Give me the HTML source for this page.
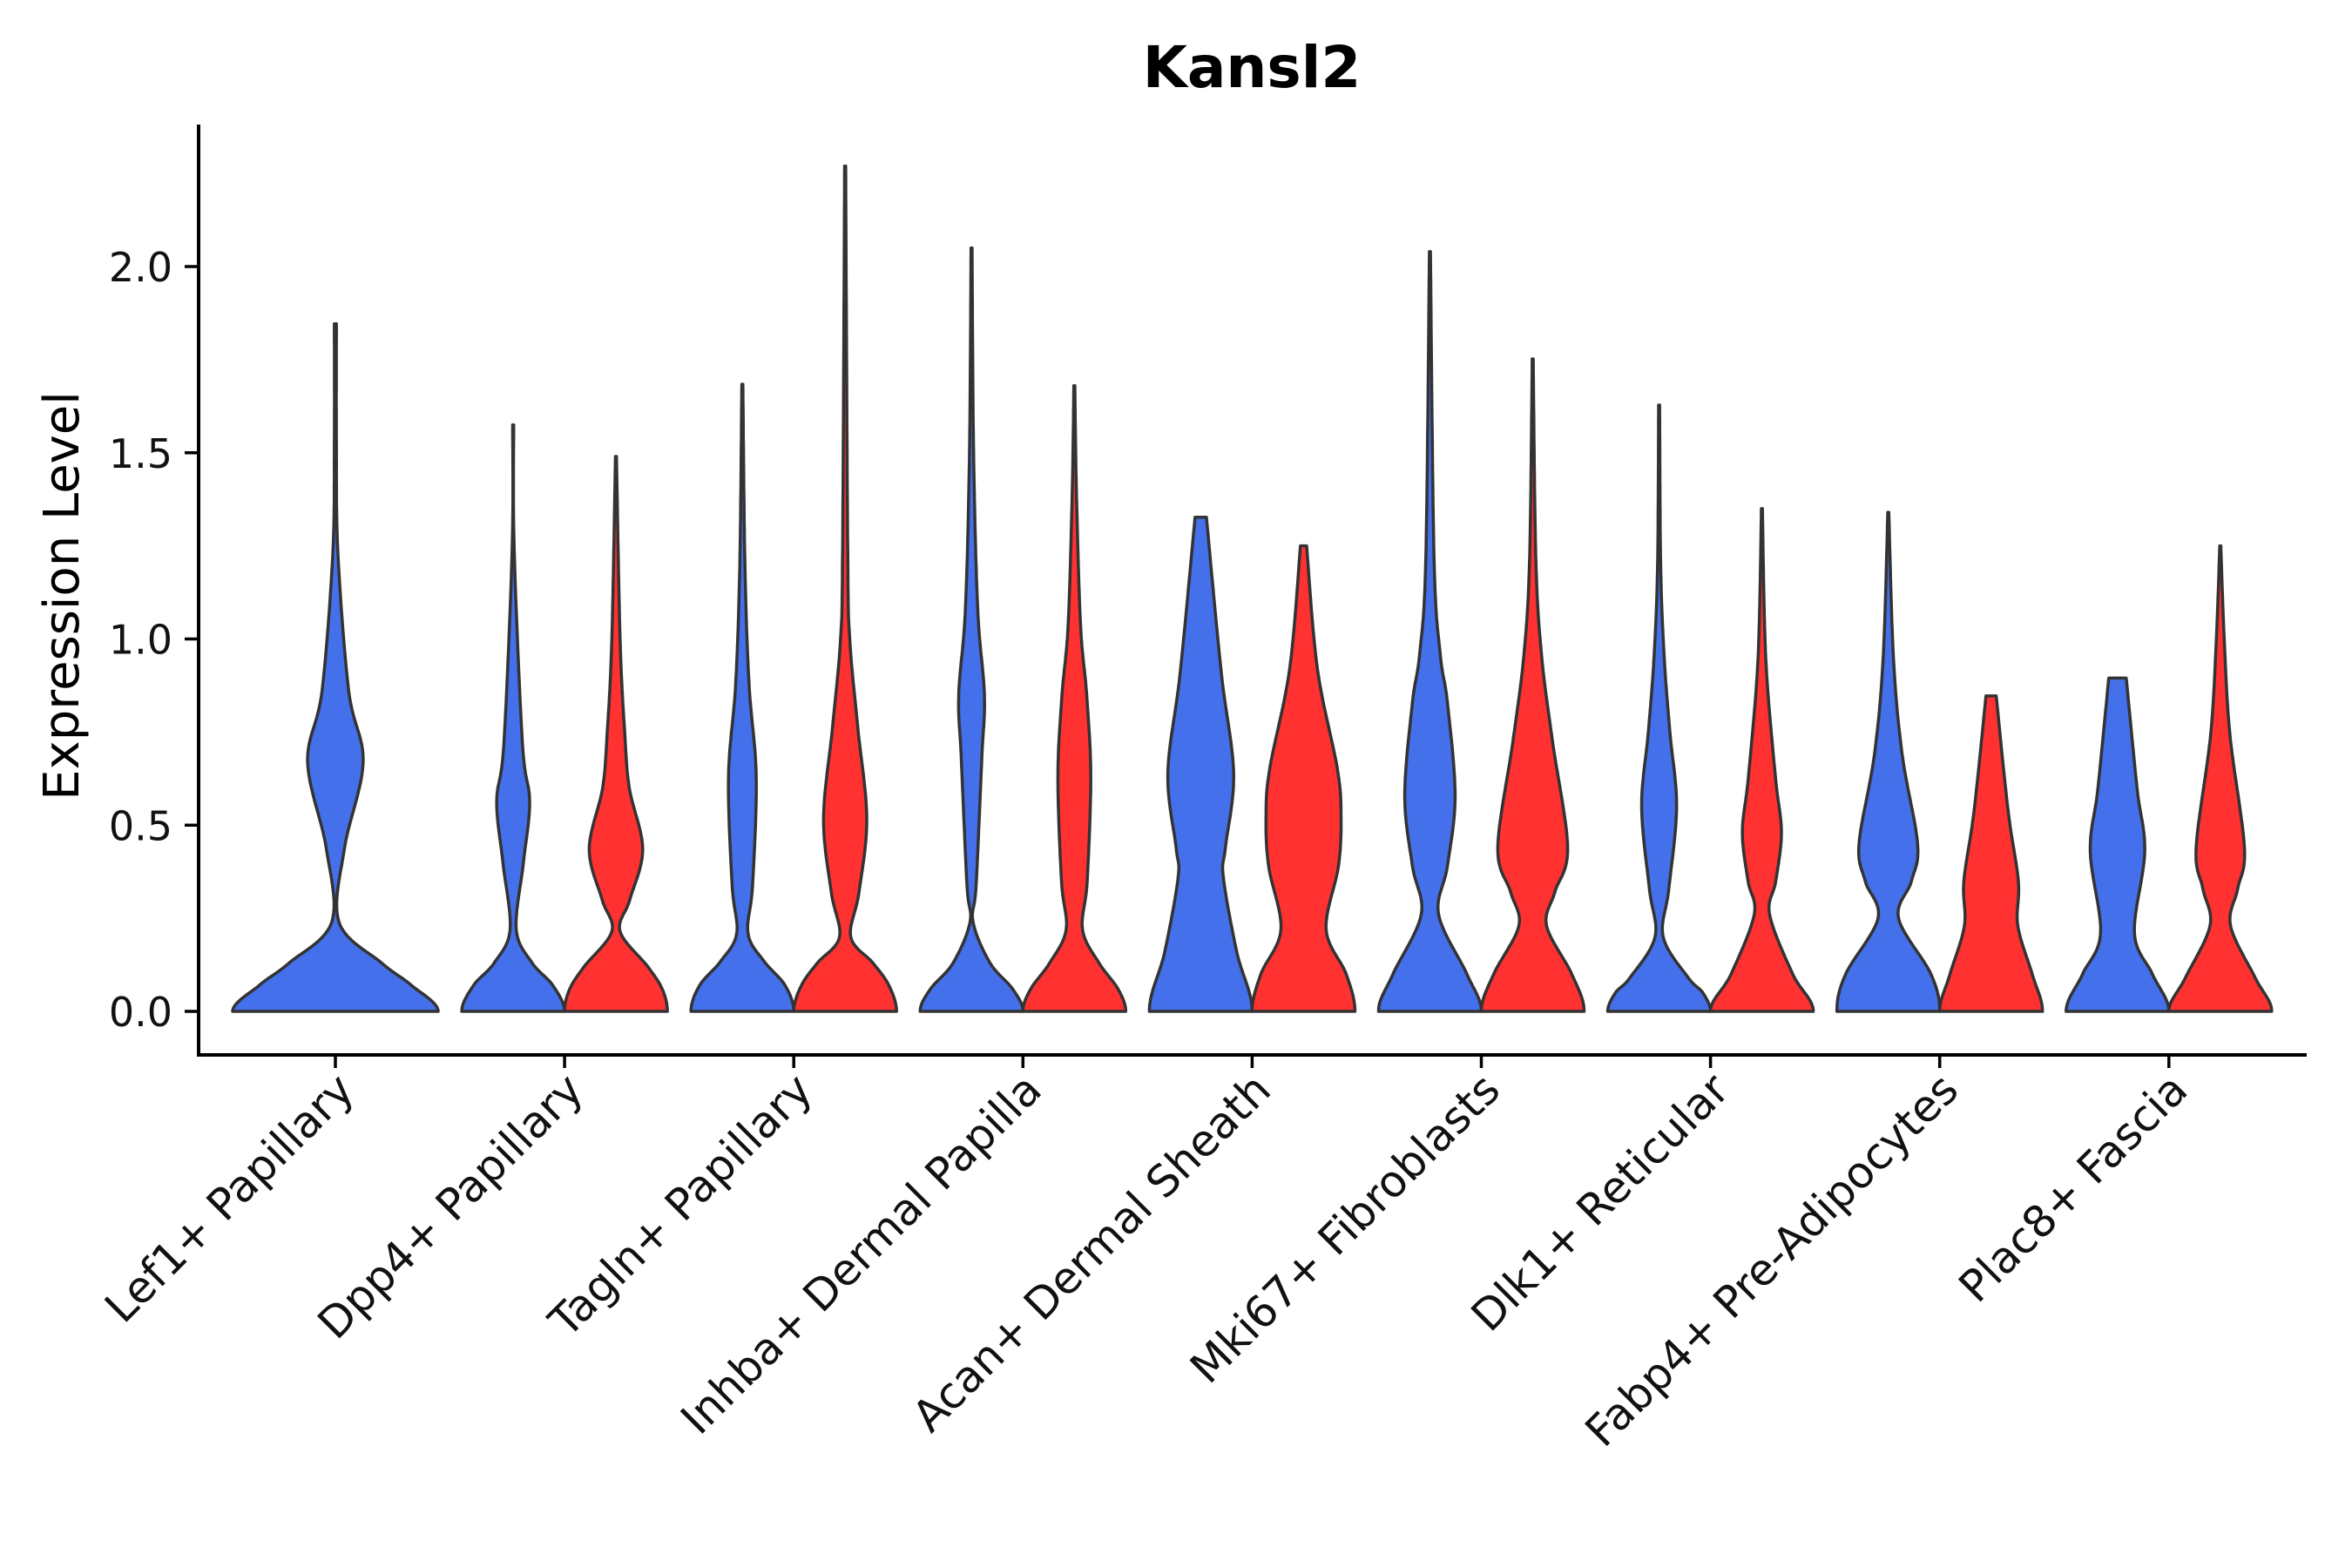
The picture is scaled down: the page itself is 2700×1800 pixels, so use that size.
<!DOCTYPE html>
<html><head><meta charset="utf-8"><style>
html,body{margin:0;padding:0;background:#fff;}
svg{display:block;font-family:"DejaVu Sans","Liberation Sans",sans-serif;}
</style></head><body>
<svg id="chart" width="2700" height="1800" viewBox="0 0 2700 1800">
<text x="1437" y="100" font-size="66" font-weight="bold" text-anchor="middle">Kansl2</text>
<text transform="translate(90,684) rotate(-90)" font-size="56" text-anchor="middle">Expression Level</text>
<g id="plot"></g>
</svg>
<script>
const categories = ["Lef1+ Papillary","Dpp4+ Papillary","Tagln+ Papillary","Inhba+ Dermal Papilla","Acan+ Dermal Sheath","Mki67+ Fibroblasts","Dlk1+ Reticular","Fabp4+ Pre-Adipocytes","Plac8+ Fascia"];
const yTicks = [0, 0.5, 1.0, 1.5, 2.0];
const yTickLabels = ["0.0","0.5","1.0","1.5","2.0"];
// violins: category index, group, max value, flat-top width, density knots (value, relative width)
const violinCat = [0,1,1,2,2,3,3,4,4,5,5,6,6,7,7,8,8];
const violinGroup = ["single","a","b","a","b","a","b","a","b","a","b","a","b","a","b","a","b"];
const violinMax = [1.846,1.575,1.49,1.684,2.27,2.05,1.68,1.327,1.25,2.04,1.752,1.628,1.35,1.34,0.847,0.895,1.25];
const violinTopW = [0.01,0.01,0.01,0.01,0.01,0.01,0.01,0.11,0.06,0.01,0.01,0.01,0.01,0.01,0.1,0.17,0.01];
const violinKnotY = [
 [0,0.07,0.13,0.24,0.44,0.67,0.86,1.23,1.53],
 [0,0.07,0.13,0.22,0.40,0.564,0.72,1.24],
 [0,0.06,0.12,0.215,0.30,0.436,0.6,0.75,1.0],
 [0,0.07,0.135,0.21,0.34,0.63,0.88,1.2],
 [0,0.07,0.13,0.2,0.32,0.52,0.77,1.0,1.24],
 [0,0.06,0.13,0.24,0.34,0.68,0.85,1.08,1.5],
 [0,0.06,0.13,0.22,0.35,0.63,0.85,1.04,1.4],
 [0,0.16,0.36,0.44,0.64,0.91],
 [0,0.1,0.22,0.39,0.52,0.65,0.92],
 [0,0.1,0.26,0.39,0.58,0.83,0.96,1.22],
 [0,0.1,0.23,0.32,0.44,0.73,0.96,1.22],
 [0,0.05,0.09,0.2,0.33,0.55,0.75,0.95,1.2],
 [0,0.1,0.26,0.35,0.48,0.62,0.87,1.05],
 [0,0.1,0.25,0.35,0.45,0.69,0.95],
 [0,0.1,0.23,0.35,0.54],
 [0,0.1,0.21,0.43,0.6],
 [0,0.09,0.23,0.33,0.44,0.74,0.99]
];
const violinKnotW = [
 [1,0.74,0.45,0.035,0.09,0.27,0.13,0.025,0.01],
 [1,0.77,0.37,0.06,0.2,0.32,0.18,0.02],
 [1,0.9,0.62,0.08,0.27,0.52,0.26,0.17,0.08],
 [1,0.83,0.42,0.11,0.2,0.27,0.13,0.05],
 [1,0.85,0.54,0.11,0.27,0.42,0.24,0.09,0.05],
 [1,0.8,0.36,0.03,0.09,0.2,0.25,0.12,0.04],
 [1,0.85,0.48,0.16,0.25,0.32,0.24,0.12,0.04],
 [1,0.7,0.44,0.48,0.64,0.4],
 [1,0.83,0.44,0.68,0.73,0.66,0.27],
 [1,0.72,0.17,0.34,0.49,0.34,0.2,0.08],
 [1,0.76,0.27,0.43,0.68,0.38,0.17,0.06],
 [1,0.85,0.57,0.08,0.19,0.34,0.21,0.1,0.03],
 [1,0.6,0.15,0.27,0.38,0.27,0.11,0.05],
 [1,0.83,0.2,0.45,0.57,0.27,0.1],
 [1,0.8,0.52,0.53,0.33],
 [1,0.68,0.33,0.53,0.38],
 [1,0.68,0.2,0.34,0.47,0.19,0.08]
];
const groupColors = {single:"#4570EB", a:"#4570EB", b:"#FF3131"};

const NS = "http://www.w3.org/2000/svg";
const plot = document.getElementById('plot');
const X0 = 385, STEP = 263.1, Y0 = 1161, YPX = 427.5;
const xScale = i => X0 + STEP * i;
const yScale = v => Y0 - v * YPX;
function mk(tag, attrs){const e=document.createElementNS(NS,tag);for(const k in attrs)e.setAttribute(k,attrs[k]);return e;}

function crPoints(pts){
  const out=[];
  const n=pts.length;
  const get=i=> i<0 ? [-pts[1][0], pts[1][1]] : pts[Math.min(n-1,i)];
  for(let i=0;i<n-1;i++){
    const p0=get(i-1),p1=pts[i],p2=pts[i+1],p3=get(i+2);
    for(let t=0;t<1;t+=0.05){
      const t2=t*t,t3=t2*t;
      const f=(a,b,c,d)=>0.5*((2*b)+(-a+c)*t+(2*a-5*b+4*c-d)*t2+(-a+3*b-3*c+d)*t3);
      out.push([Math.max(0,f(p0[0],p1[0],p2[0],p3[0])),Math.min(1,Math.max(0.004,f(p0[1],p1[1],p2[1],p3[1])))]);
    }
  }
  out.push(pts[n-1]);
  return out;
}
violinMax.forEach((mx,vi)=>{
  const g=violinGroup[vi];
  const c=xScale(violinCat[vi]);
  const half = g==="single"?118:59;
  const cx = g==="single"?c:(g==="a"?c-59:c+59);
  const pts=violinKnotY[vi].map((y,k)=>[y,violinKnotW[vi][k]]);
  pts.push([mx,violinTopW[vi]]);
  const curve=crPoints(pts);
  let d="";
  curve.forEach((p,k)=>{d+=(k?"L":"M")+(cx+p[1]*half).toFixed(1)+","+yScale(p[0]).toFixed(1);});
  for(let k=curve.length-1;k>=0;k--){const p=curve[k];d+="L"+(cx-p[1]*half).toFixed(1)+","+yScale(p[0]).toFixed(1);}
  d+="Z";
  const path=mk('path',{d:d,fill:groupColors[g],stroke:"#333",'stroke-width':3.5,'stroke-linejoin':'round'});
  
  
  plot.appendChild(path);
});

const yAxis=mk('line',{x1:228,y1:143,x2:228,y2:1211,stroke:"#000",'stroke-width':4});


plot.appendChild(yAxis);
const xAxis=mk('line',{x1:226,y1:1211,x2:2648,y2:1211,stroke:"#000",'stroke-width':4});


plot.appendChild(xAxis);

yTicks.forEach((v,i)=>{
  const y=yScale(v);
  const t=mk('line',{x1:212,y1:y,x2:228,y2:y,stroke:"#000",'stroke-width':3.5});
  
  
  plot.appendChild(t);
  const tx=mk('text',{x:198,y:y+17,'font-size':46,'text-anchor':'end',fill:'#111'});
  tx.textContent=yTickLabels[i];
  
  
  plot.appendChild(tx);
});

categories.forEach((c,i)=>{
  const x=xScale(i);
  const t=mk('line',{x1:x,y1:1211,x2:x,y2:1226,stroke:"#000",'stroke-width':3.5});
  
  
  plot.appendChild(t);
  const ax=x+24, ay=1254;
  const tx=mk('text',{x:ax,y:ay,'font-size':50,'text-anchor':'end',fill:'#111',transform:`rotate(-45 ${ax} ${ay})`});
  tx.textContent=c;
  
  
  plot.appendChild(tx);
});
</script>
</body></html>
